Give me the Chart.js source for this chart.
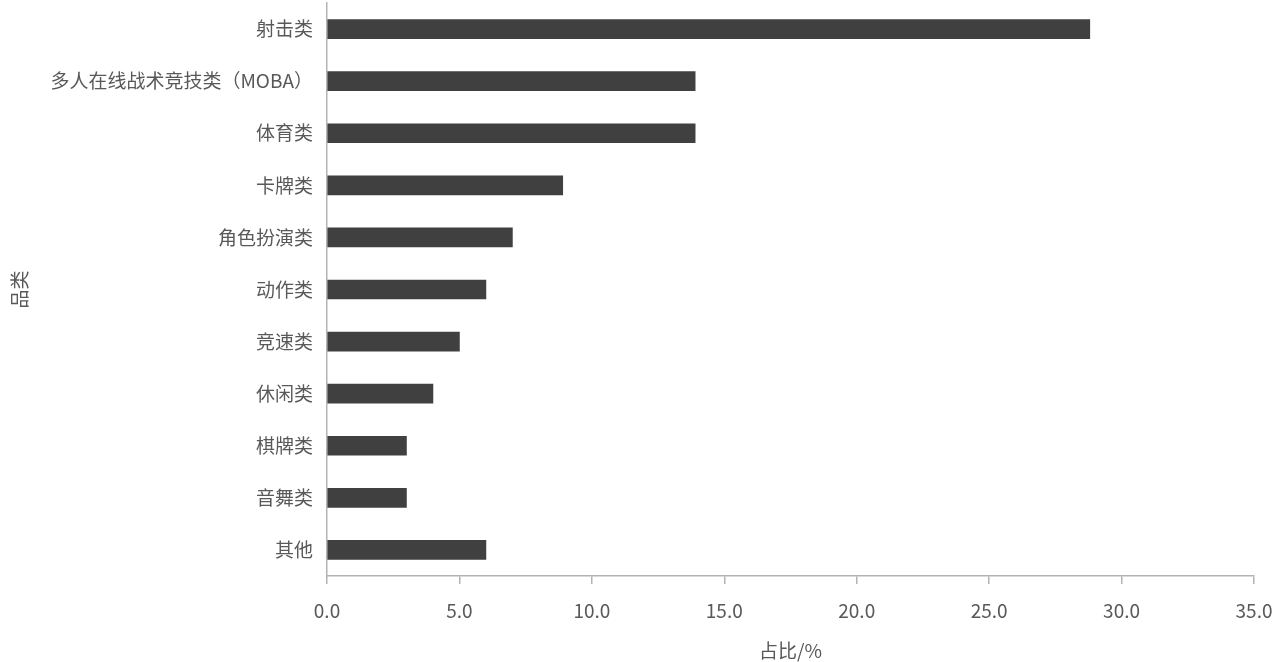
<!DOCTYPE html>
<html>
<head>
<meta charset="utf-8">
<script src="https://cdn.jsdelivr.net/npm/chart.js@4/dist/chart.umd.min.js"></script>
<style>
  html, body { margin: 0; padding: 0; background: #fff; }
  #wrap { width: 1279px; height: 662px; }
</style>
</head>
<body>
<div id="wrap"><canvas id="genreChart" width="1279" height="662"></canvas></div>
<script>
// 游戏品类占比
const genres = [
  "射击类",
  "多人在线战术竞技类（MOBA）",
  "体育类",
  "卡牌类",
  "角色扮演类",
  "动作类",
  "竞速类",
  "休闲类",
  "棋牌类",
  "音舞类",
  "其他",
];
const shares = [28.8, 13.9, 13.9, 8.9, 7.0, 6.0, 5.0, 4.0, 3.0, 3.0, 6.0];
const xTicks = [0, 5, 10, 15, 20, 25, 30, 35];

const textColor = "#595959";
const axisColor = "#b3b3b3";
const font = { family: "'Noto Sans CJK SC', 'Noto Sans', sans-serif", size: 19 };

const ctx = document.getElementById("genreChart").getContext("2d");
const genreChart = new Chart(ctx, {
  type: "bar",
  data: {
    labels: genres,
    datasets: [
      {
        label: "占比/%",
        data: shares,
        backgroundColor: "#404040",
        barThickness: 19,
      },
    ],
  },
  options: {
    indexAxis: "y",
    responsive: false,
    animation: false,
    layout: { padding: { top: 0, right: 0, bottom: 0, left: 0 } },
    plugins: {
      legend: { display: false },
      tooltip: { enabled: false },
    },
    scales: {
      x: {
        min: 0,
        max: 35,
        afterBuildTicks: (scale) => {
          scale.ticks = xTicks.map((v) => ({ value: v }));
        },
        afterFit: (scale) => {
          scale.height = 86;
          scale.paddingLeft = 0;
          scale.paddingRight = 25;
        },
        border: { display: true, color: axisColor, width: 1.5 },
        grid: {
          display: true,
          drawOnChartArea: false,
          drawTicks: true,
          tickLength: 8,
          color: axisColor,
          lineWidth: 1.5,
        },
        ticks: {
          color: textColor,
          font: font,
          padding: 15,
          callback: (v) => Number(v).toFixed(1),
        },
        title: {
          display: true,
          text: "占比/%",
          color: textColor,
          font: font,
          padding: { top: 0, bottom: 0 },
        },
      },
      y: {
        afterFit: (scale) => {
          scale.width = 327;
          scale.paddingTop = 3;
          scale.paddingBottom = 0;
        },
        border: { display: true, color: axisColor, width: 1.5 },
        grid: { display: false, drawTicks: false },
        ticks: { color: textColor, font: font, padding: 14 },
        title: {
          display: true,
          text: "品类",
          color: textColor,
          font: font,
          padding: { top: 8, bottom: 0 },
        },
      },
    },
  },
});
</script>
</body>
</html>
